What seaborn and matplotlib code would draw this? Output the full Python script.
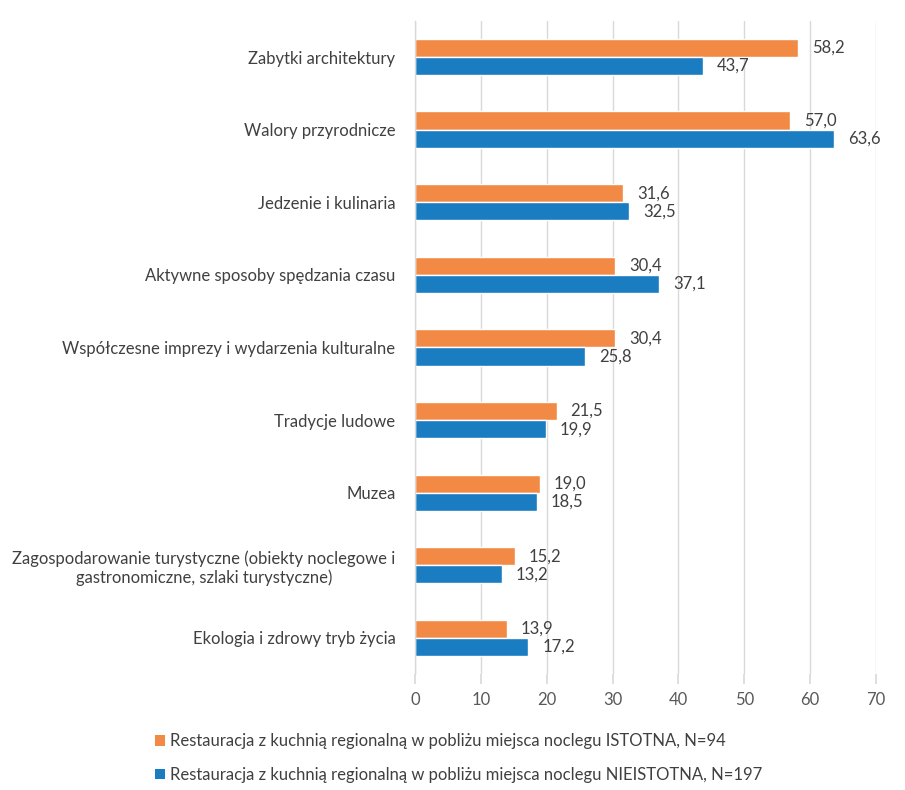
import matplotlib
matplotlib.use("Agg")
import matplotlib.pyplot as plt
import seaborn as sns
import pandas as pd
from matplotlib.patches import Patch

categories = [
    "Zabytki architektury",
    "Walory przyrodnicze",
    "Jedzenie i kulinaria",
    "Aktywne sposoby spędzania czasu",
    "Współczesne imprezy i wydarzenia kulturalne",
    "Tradycje ludowe",
    "Muzea",
    "Zagospodarowanie turystyczne (obiekty noclegowe i\ngastronomiczne, szlaki turystyczne)",
    "Ekologia i zdrowy tryb życia",
]
series_names = [
    "Restauracja z kuchnią regionalną w pobliżu miejsca noclegu ISTOTNA, N=94",
    "Restauracja z kuchnią regionalną w pobliżu miejsca noclegu NIEISTOTNA, N=197",
]
istotna = [58.2, 57.0, 31.6, 30.4, 30.4, 21.5, 19.0, 15.2, 13.9]
nieistotna = [43.7, 63.6, 32.5, 37.1, 25.8, 19.9, 18.5, 13.2, 17.2]
x_ticks = [0, 10, 20, 30, 40, 50, 60, 70]

colors = ["#F28A45", "#1A7DC1"]

df = pd.DataFrame({
    "kategoria": categories * 2,
    "seria": [series_names[0]] * len(categories) + [series_names[1]] * len(categories),
    "wartosc": istotna + nieistotna,
})

sns.set_theme(style="white")
plt.rcParams["font.family"] = ["Lato", "DejaVu Sans"]

fig = plt.figure(figsize=(9.05, 7.9), dpi=100)
ax = fig.add_axes([0.4586, 0.1465, 0.5094, 0.8273])

sns.barplot(data=df, y="kategoria", x="wartosc", hue="seria", order=categories,
            hue_order=series_names, palette=colors, orient="h", width=0.5,
            ax=ax, legend=False, saturation=1)

for cont in ax.containers:
    labels = [f"{v:.1f}".replace(".", ",") for v in cont.datavalues]
    ax.bar_label(cont, labels=labels, padding=10, fontsize=12, color="#404040")

ax.set_xlim(0, 70)
ax.set_ylim(8.5, -0.5)
ax.set_xticks(x_ticks)
ax.set_xticklabels([str(t) for t in x_ticks])
ax.set_xlabel("")
ax.set_ylabel("")
ax.grid(axis="x", color="#D9D9D9", linewidth=1)
ax.set_axisbelow(True)
for s in ["top", "right", "bottom"]:
    ax.spines[s].set_visible(False)
ax.spines["left"].set_color("#D9D9D9")
ax.spines["left"].set_linewidth(1)
ax.tick_params(axis="x", length=7, color="#D9D9D9", labelsize=12, labelcolor="#595959", pad=6, direction="out", bottom=True)
ax.tick_params(axis="y", length=0, labelsize=12, labelcolor="#404040", pad=14)
for lbl in ax.get_yticklabels():
    lbl.set_multialignment("center")

handles = [Patch(facecolor=c, edgecolor="none") for c in colors]
fig.legend(handles, series_names, loc="upper left", bbox_to_anchor=(0.164, 0.080),
           frameon=False, fontsize=12, labelcolor="#404040", handlelength=0.6, handleheight=0.6,
           handletextpad=0.3, labelspacing=1.05, borderaxespad=0)

fig.savefig("out.png", dpi=100)
